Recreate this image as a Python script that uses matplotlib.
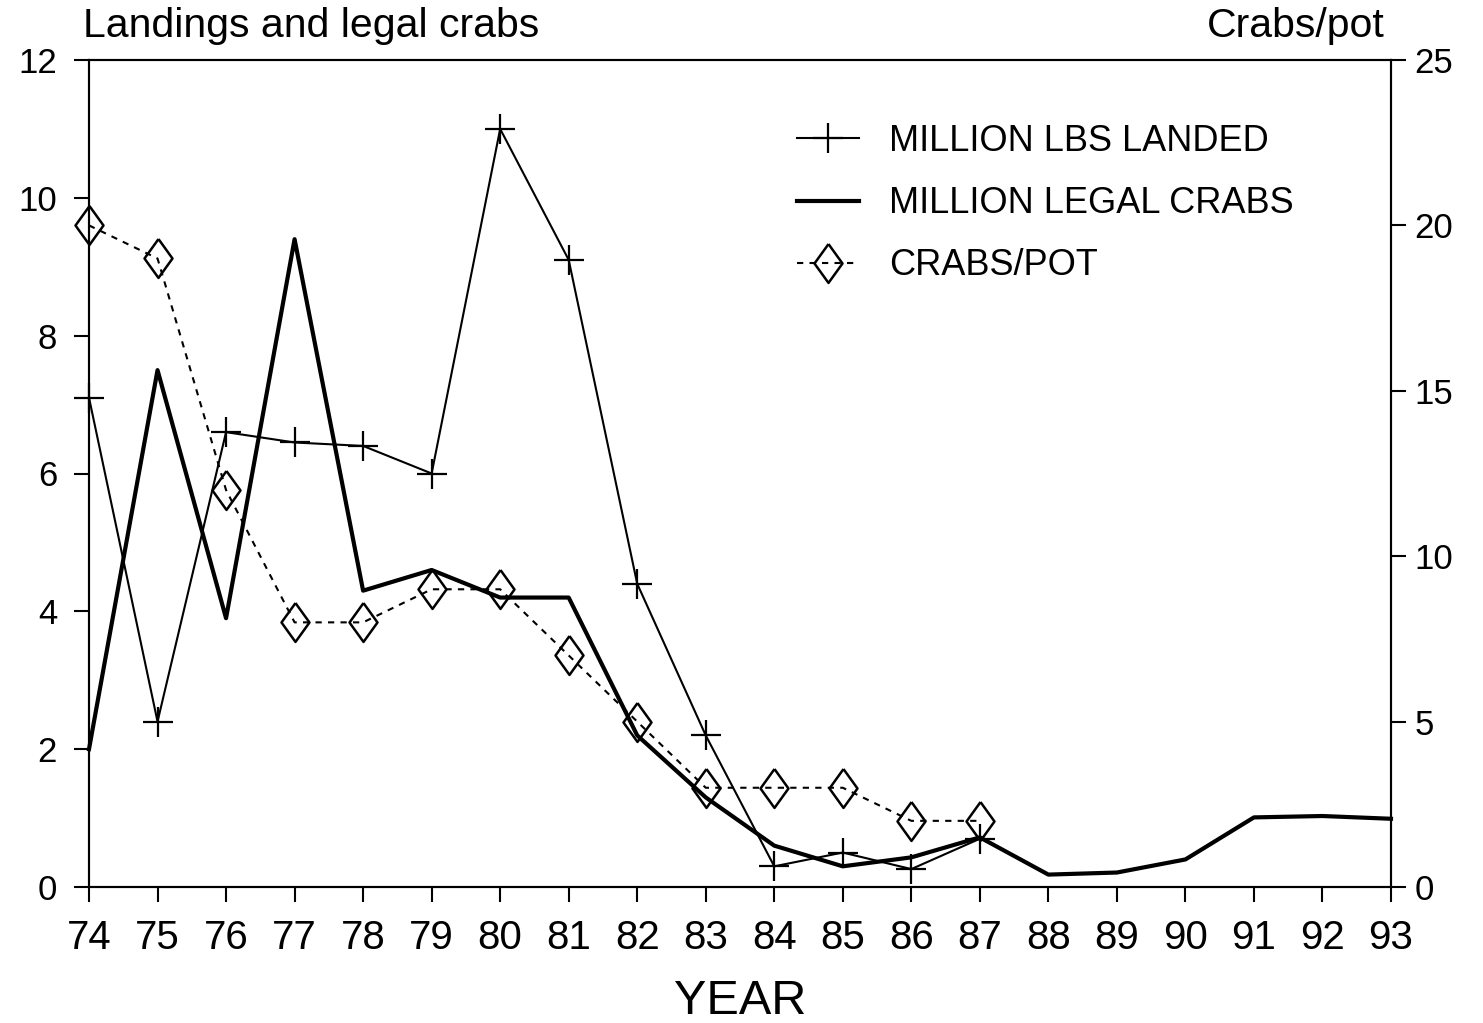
import matplotlib
matplotlib.use("Agg")
import matplotlib.pyplot as plt
from matplotlib.lines import Line2D

# ---- data ----
years = [74, 75, 76, 77, 78, 79, 80, 81, 82, 83, 84, 85, 86, 87, 88, 89, 90, 91, 92, 93]
year_labels = [str(y) for y in years]

landings_years = [74, 75, 76, 77, 78, 79, 80, 81, 82, 83, 84, 85, 86, 87]
landings = [7.1, 2.4, 6.6, 6.45, 6.4, 6.0, 11.0, 9.1, 4.4, 2.2, 0.3, 0.5, 0.26, 0.7]

legal_crabs = [2.0, 7.5, 3.9, 9.4, 4.3, 4.6, 4.2, 4.2, 2.2, 1.3, 0.6, 0.3, 0.43, 0.72,
               0.18, 0.21, 0.4, 1.01, 1.03, 0.99]

cpp_years = [74, 75, 76, 77, 78, 79, 80, 81, 82, 83, 84, 85, 86, 87]
crabs_per_pot = [20, 19, 12, 8, 8, 9, 9, 7, 5, 3, 3, 3, 2, 2]

left_ticks = [0, 2, 4, 6, 8, 10, 12]
right_ticks = [0, 5, 10, 15, 20, 25]

plt.rcParams['font.family'] = ['Liberation Sans', 'DejaVu Sans']

W, H = 1483, 1023
fig = plt.figure(figsize=(W / 100, H / 100), dpi=100)
L, R, B, T = 89, 1391, 887, 60
ax = fig.add_axes([L / W, 1 - B / H, (R - L) / W, (B - T) / H])
ax2 = ax.twinx()

diamond = [(0, 1), (0.72, 0), (0, -1), (-0.72, 0), (0, 1)]

ax.plot(landings_years, landings, color='black', lw=1.5, marker='+',
        markersize=22, markeredgewidth=1.6, zorder=3, clip_on=False)
ax.plot(years, legal_crabs, color='black', lw=3.0, zorder=3, clip_on=False)
ax2.plot(cpp_years, crabs_per_pot, color='black', lw=1.5, linestyle=(0, (3, 3)),
         marker=diamond, markersize=28, markerfacecolor='none', markeredgewidth=1.8,
         zorder=3, clip_on=False)

ax.set_xlim(74, 93)
ax.set_ylim(0, 12)
ax2.set_ylim(0, 25)
ax.set_xticks(years)
ax.set_xticklabels(year_labels, fontsize=29)
ax.set_yticks(left_ticks)
ax.set_yticklabels([str(t) for t in left_ticks], fontsize=25)
ax2.set_yticks(right_ticks)
ax2.set_yticklabels([str(t) for t in right_ticks], fontsize=25)

for a in (ax, ax2):
    for s in a.spines.values():
        s.set_linewidth(1.5)
ax.tick_params(axis='x', direction='out', length=11, width=1.5, pad=12)
ax.tick_params(axis='y', direction='out', length=11, width=1.5, pad=12)
ax2.tick_params(axis='y', direction='out', length=11, width=1.5, pad=6)

ax.set_xlabel('YEAR', fontsize=35, labelpad=16)

fig.text(83 / W, 1 - 26 / H, 'Landings and legal crabs', fontsize=29.5,
         ha='left', va='center')
fig.text(1385 / W, 1 - 26 / H, 'Crabs/pot', fontsize=29.5, ha='right', va='center')

handles = [
    Line2D([], [], color='black', lw=1.5, marker='+', markersize=22, markeredgewidth=1.6),
    Line2D([], [], color='black', lw=3.0),
    Line2D([], [], color='black', lw=1.5, linestyle=(0, (3, 3)), marker=diamond,
           markersize=28, markerfacecolor='none', markeredgewidth=1.8),
]
labels = ['MILLION LBS LANDED', 'MILLION LEGAL CRABS', 'CRABS/POT']
ax2.legend(handles, labels, loc='upper left', bbox_to_anchor=(0.533, 0.94),
           frameon=False, fontsize=26, handlelength=1.7, handletextpad=0.85,
           labelspacing=0.75, borderaxespad=0)

fig.savefig('out.png', dpi=100, facecolor='white')
